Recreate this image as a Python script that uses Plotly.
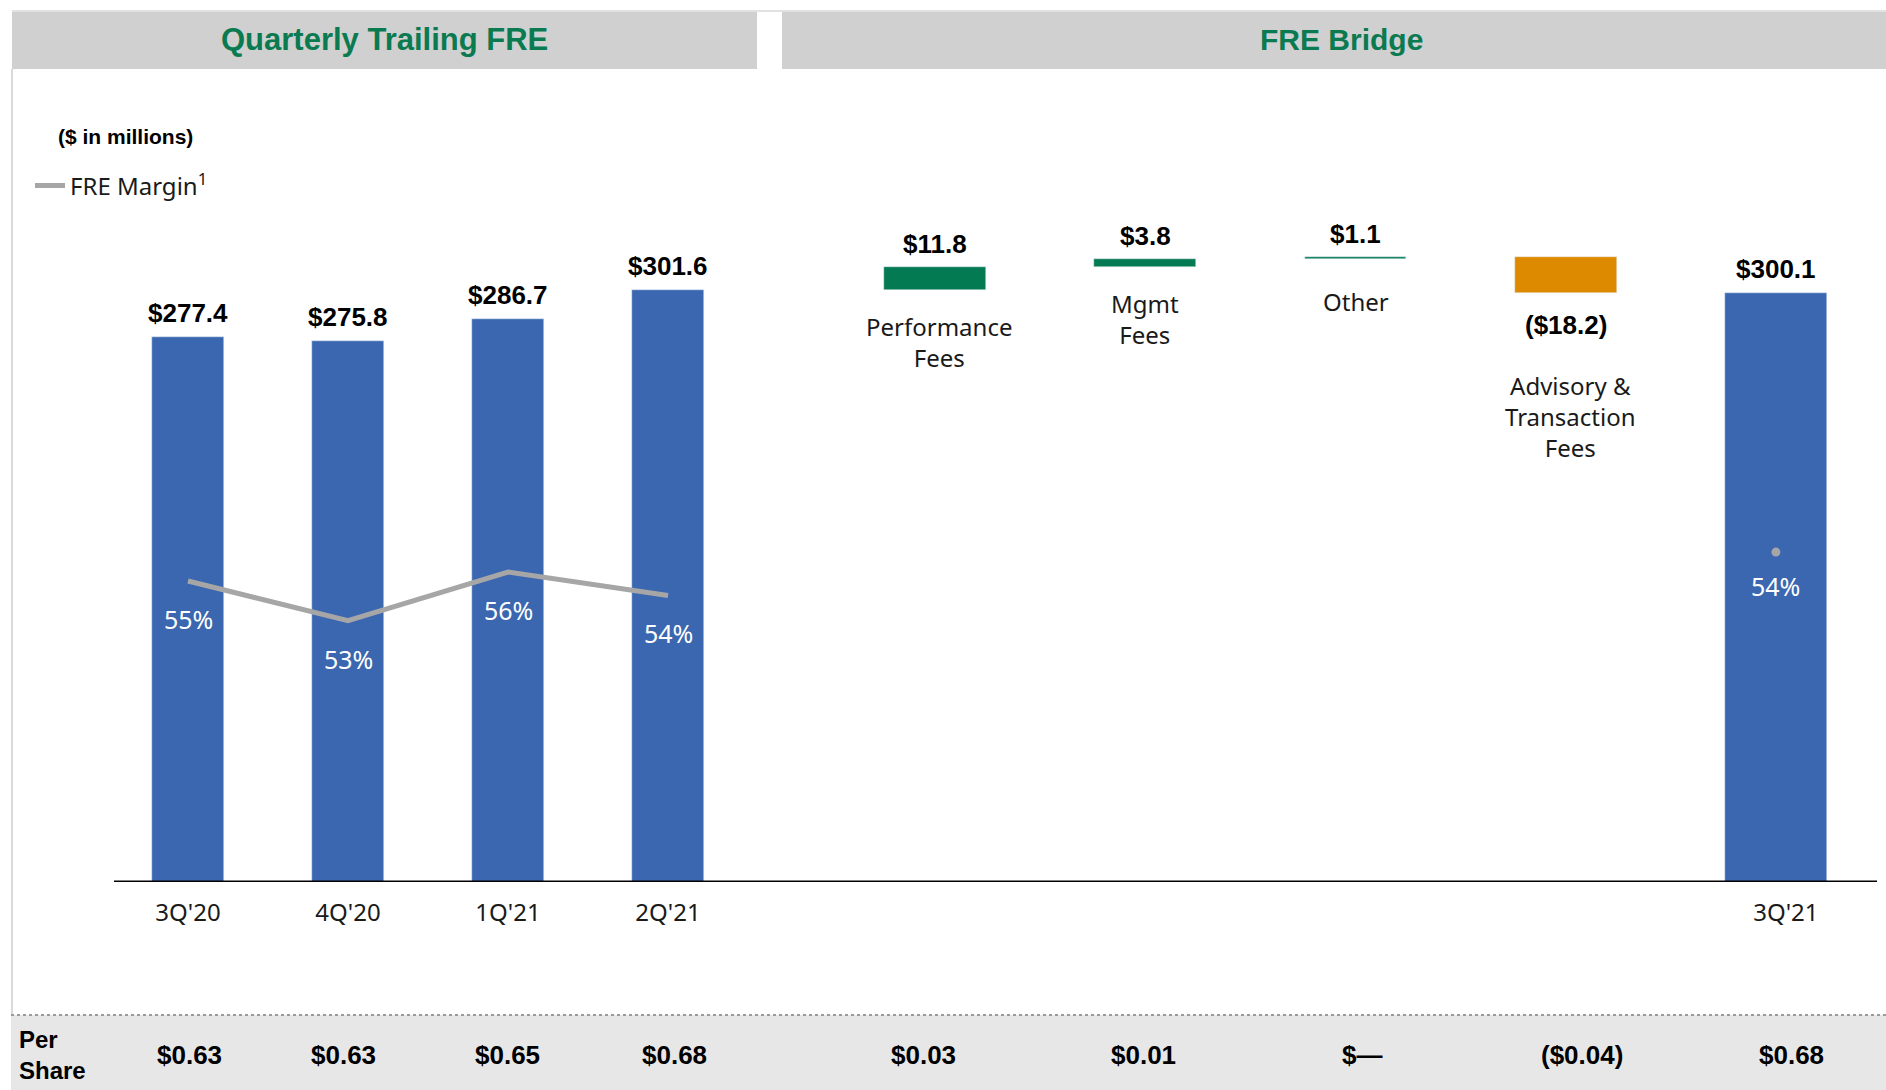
import plotly.graph_objects as go

# ---------------- data ----------------
quarters = ["3Q'20", "4Q'20", "1Q'21", "2Q'21"]
trailing_fre = [277.4, 275.8, 286.7, 301.6]
fre_margin = [55.2, 53.0, 55.7, 54.4]          # estimated from line position
margin_labels = ["55%", "53%", "56%", "54%"]
per_share_left = ["$0.63", "$0.63", "$0.65", "$0.68"]

bridge_cats = ["Performance Fees", "Mgmt Fees", "Other", "Advisory & Transaction Fees", "3Q'21"]
bridge_names = ["Performance<br>Fees", "Mgmt<br>Fees", "Other", "Advisory &<br>Transaction<br>Fees", ""]
bridge_changes = [11.8, 3.8, 1.1, -18.2]
final_fre = 300.1
final_margin = 54.0
final_margin_label = "54%"
per_share_right = ["$0.03", "$0.01", "$\u2014", "($0.04)", "$0.68"]

# ---------------- style ----------------
W, H = 1886, 1090
BLUE = "#3A67AF"
GREEN = "#047A52"
ORANGE = "#DD8A00"
GRAY_LINE = "#A6A6A6"
HEAD_GRAY = "#D0D0D0"
BAND_GRAY = "#E7E7E7"
TITLE_GREEN = "#0A7A50"
BOLD = "Liberation Sans, Arial, sans-serif"
REG = "Noto Sans, Open Sans, sans-serif"

# small pixel nudges of texts
nudge_left = [1, -5, -1, 6]
nudge_right = [-12, -2, 6, 16, 16]
name_dx = [4, 0, 0, 5]
name_dy = [0, 0, -6, 0]


def px_x(p):
    return p / W


def px_y(p):
    return 1 - p / H


base_y = px_y(882)          # baseline of the bars
y_top_val = 882 / 1.963     # value range that fits above the baseline


def money(v):
    return f"${v:.1f}" if v >= 0 else f"(${abs(v):.1f})"


fig = go.Figure()

# left panel bars
fig.add_trace(go.Bar(
    x=quarters, y=trailing_fre, marker_color=BLUE, width=0.45,
    xaxis="x", yaxis="y", showlegend=False, hoverinfo="skip"))

# left panel margin line
fig.add_trace(go.Scatter(
    x=quarters, y=fre_margin, mode="lines", line=dict(color=GRAY_LINE, width=5),
    name="FRE Margin<sup>1</sup>", xaxis="x", yaxis="y3", showlegend=True, hoverinfo="skip"))

# bridge (waterfall built from running total)
start = trailing_fre[-1]
bases, running = [], start
for d in bridge_changes:
    bases.append(running)
    running += d
bar_y = bridge_changes + [final_fre]
bar_base = bases + [0]
bar_colors = [GREEN if d >= 0 else ORANGE for d in bridge_changes] + [BLUE]
fig.add_trace(go.Bar(
    x=bridge_cats, y=bar_y, base=bar_base, marker_color=bar_colors, width=0.485,
    xaxis="x2", yaxis="y2", showlegend=False, hoverinfo="skip"))

# final margin dot
fig.add_trace(go.Scatter(
    x=[bridge_cats[-1]], y=[final_margin], mode="markers",
    marker=dict(color=GRAY_LINE, size=9), xaxis="x2", yaxis="y4",
    showlegend=False, hoverinfo="skip"))

VAL_FONT = dict(family=BOLD, size=26, color="#000")
PCT_FONT = dict(family=REG, size=25, color="#FFFFFF")
CAT_FONT = dict(family=REG, size=24, color="#1A1A1A")

ann = []
# value labels, left
for q, v in zip(quarters, trailing_fre):
    ann.append(dict(x=q, y=v, xref="x", yref="y", text=f"<b>{money(v)}</b>", showarrow=False,
                    yanchor="middle", yshift=24, font=VAL_FONT))
# margin labels, left
for q, m, t in zip(quarters, fre_margin, margin_labels):
    ann.append(dict(x=q, y=m, xref="x", yref="y3", text=t, showarrow=False,
                    yanchor="middle", yshift=-38, font=PCT_FONT))
# bridge labels
for c, nm, b, d, dx, dy in zip(bridge_cats, bridge_names, bases, bridge_changes, name_dx, name_dy):
    top, bot = max(b, b + d), min(b, b + d)
    if d >= 0:
        ann.append(dict(x=c, y=top, xref="x2", yref="y2", text=f"<b>{money(d)}</b>", showarrow=False,
                        yanchor="middle", yshift=23, font=VAL_FONT))
        ann.append(dict(x=c, y=bot, xref="x2", yref="y2", text=nm, showarrow=False,
                        yanchor="top", yshift=-18 + dy, xshift=dx, font=CAT_FONT))
    else:
        ann.append(dict(x=c, y=bot, xref="x2", yref="y2", text=f"<b>{money(d)}</b>", showarrow=False,
                        yanchor="middle", yshift=-32, font=VAL_FONT))
        ann.append(dict(x=c, y=bot, xref="x2", yref="y2", text=nm, showarrow=False,
                        yanchor="top", yshift=-74 + dy, xshift=dx, font=CAT_FONT))
ann.append(dict(x=bridge_cats[-1], y=final_fre, xref="x2", yref="y2", text=f"<b>{money(final_fre)}</b>",
                showarrow=False, yanchor="middle", yshift=24, font=VAL_FONT))
ann.append(dict(x=bridge_cats[-1], y=final_margin, xref="x2", yref="y4", text=final_margin_label,
                showarrow=False, yanchor="middle", yshift=-34, font=PCT_FONT))

# per share row
for q, t, n in zip(quarters, per_share_left, nudge_left):
    ann.append(dict(x=q, y=px_y(1055), xref="x", yref="paper", text=f"<b>{t}</b>", showarrow=False,
                    xanchor="center", yanchor="middle", xshift=n, font=VAL_FONT))
for c, t, n in zip(bridge_cats, per_share_right, nudge_right):
    ann.append(dict(x=c, y=px_y(1055), xref="x2", yref="paper", text=f"<b>{t}</b>", showarrow=False,
                    xanchor="center", yanchor="middle", xshift=n, font=VAL_FONT))
ann.append(dict(x=px_x(17), y=px_y(1055), xref="paper", yref="paper", text="<b>Per<br>Share</b>",
                showarrow=False, xanchor="left", yanchor="middle", align="left",
                font=dict(family=BOLD, size=24, color="#000")))

# headers and notes
ann.append(dict(x=px_x(384), y=px_y(39), xref="paper", yref="paper", text="<b>Quarterly Trailing FRE</b>",
                showarrow=False, xanchor="center", yanchor="middle",
                font=dict(family=BOLD, size=31, color=TITLE_GREEN)))
ann.append(dict(x=px_x(1341), y=px_y(39), xref="paper", yref="paper", text="<b>FRE Bridge</b>",
                showarrow=False, xanchor="center", yanchor="middle",
                font=dict(family=BOLD, size=30, color=TITLE_GREEN)))
ann.append(dict(x=px_x(56), y=px_y(136), xref="paper", yref="paper", text="<b>($ in millions)</b>",
                showarrow=False, xanchor="left", yanchor="middle",
                font=dict(family=BOLD, size=21, color="#000")))

shapes = [
    dict(type="rect", xref="paper", yref="paper", x0=px_x(12), x1=px_x(757), y0=px_y(11), y1=px_y(69),
         fillcolor=HEAD_GRAY, line=dict(width=0), layer="below"),
    dict(type="rect", xref="paper", yref="paper", x0=px_x(782), x1=1, y0=px_y(11), y1=px_y(69),
         fillcolor=HEAD_GRAY, line=dict(width=0), layer="below"),
    dict(type="line", xref="paper", yref="paper", x0=px_x(12), x1=1, y0=px_y(11), y1=px_y(11),
         line=dict(color="#E2E2E2", width=2), layer="below"),
    dict(type="line", xref="paper", yref="paper", x0=px_x(12), x1=px_x(12), y0=px_y(69), y1=px_y(1015),
         line=dict(color="#D9D9D9", width=2), layer="below"),
    dict(type="rect", xref="paper", yref="paper", x0=px_x(11), x1=1, y0=px_y(1015), y1=0,
         fillcolor=BAND_GRAY, line=dict(width=0), layer="below"),
    dict(type="line", xref="paper", yref="paper", x0=px_x(11), x1=1, y0=px_y(1015), y1=px_y(1015),
         line=dict(color="#9A9A9A", width=2, dash="dot"), layer="below"),
    dict(type="line", xref="paper", yref="y", x0=px_x(114), x1=px_x(1877), y0=0, y1=0,
         line=dict(color="#000", width=3), layer="above"),
]

axis_hidden = dict(showgrid=False, zeroline=False, showline=False, showticklabels=False, ticks="")

fig.update_layout(
    width=W, height=H, margin=dict(l=0, r=0, t=0, b=0),
    paper_bgcolor="white", plot_bgcolor="rgba(0,0,0,0)",
    barmode="overlay", bargap=0,
    xaxis=dict(domain=[px_x(108), px_x(748)], anchor="y", type="category",
               categoryorder="array", categoryarray=quarters, range=[-0.5, len(quarters) - 0.5],
               showgrid=False, zeroline=False, showline=False, ticks="",
               tickfont=CAT_FONT, ticklabelstandoff=14),
    xaxis2=dict(domain=[px_x(830), px_x(1881)], anchor="y2", type="category",
                categoryorder="array", categoryarray=bridge_cats, range=[-0.5, len(bridge_cats) - 0.5],
                tickvals=[bridge_cats[-1]], ticktext=[bridge_cats[-1]],
                showgrid=False, zeroline=False, showline=False, ticks="",
                tickfont=CAT_FONT, ticklabelstandoff=14, ticklabelshift=10),
    yaxis=dict(domain=[base_y, 1], range=[0, y_top_val], anchor="x", **axis_hidden),
    yaxis2=dict(domain=[base_y, 1], range=[0, y_top_val], anchor="x2", **axis_hidden),
    yaxis3=dict(overlaying="y", anchor="x", range=[38.48, 87.48], **axis_hidden),
    yaxis4=dict(overlaying="y2", anchor="x2", range=[35.67, 84.67], **axis_hidden),
    legend=dict(x=px_x(30), y=px_y(186), xanchor="left", yanchor="middle",
                font=dict(family=REG, size=24, color="#1A1A1A"), bgcolor="rgba(0,0,0,0)",
                itemwidth=30),
    annotations=ann, shapes=shapes,
)

fig.write_html("out.html", config={"displayModeBar": False},
               post_script="document.body.style.margin='0';document.body.style.overflow='hidden';")
